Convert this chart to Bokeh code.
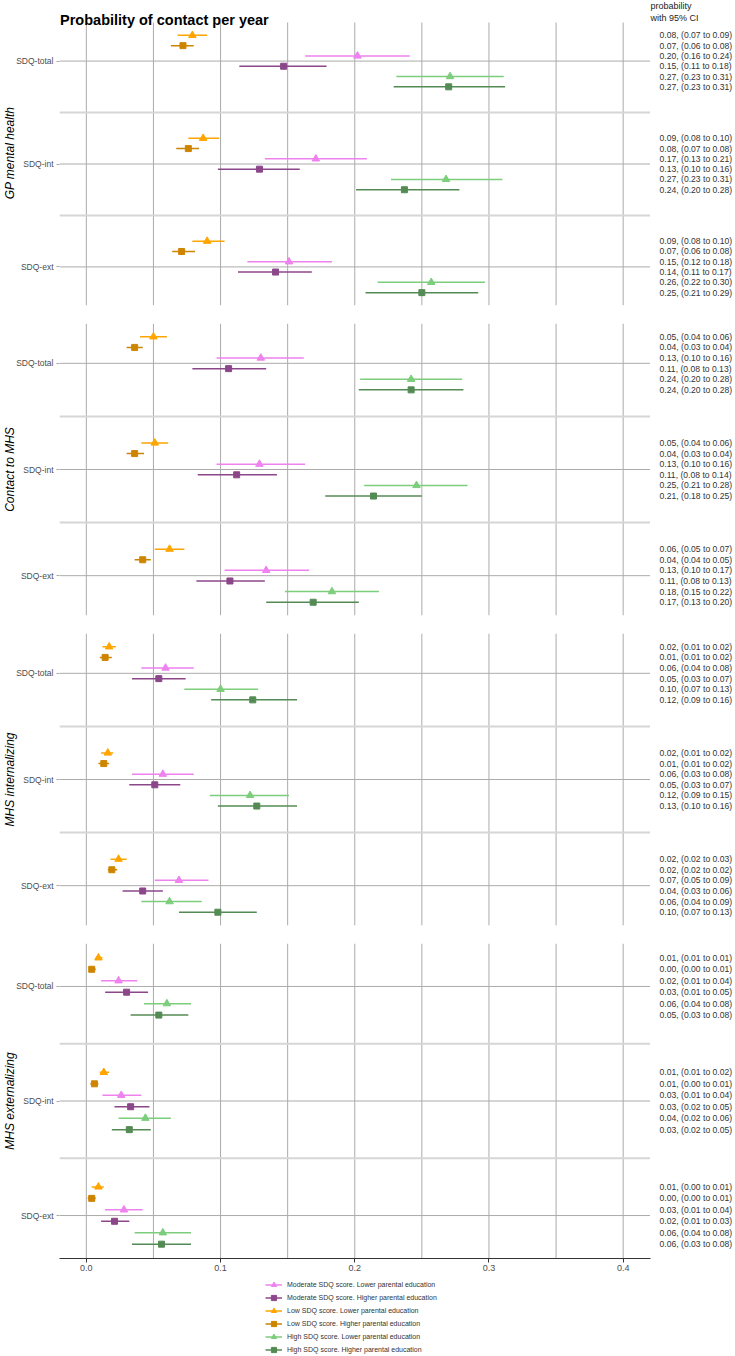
from bokeh.plotting import figure
from bokeh.models import Range1d, FixedTicker, Legend, LegendItem, ColumnDataSource
from bokeh.layouts import column
from bokeh.embed import file_html
from bokeh.resources import INLINE
from bokeh.core.properties import value

FONT = "Liberation Sans"

outcomes = ["GP mental health", "Contact to MHS", "MHS internalizing", "MHS externalizing"]
measures = ["SDQ-total", "SDQ-int", "SDQ-ext"]
groups = [
    "Low SDQ score. Lower parental education",
    "Low SDQ score. Higher parental education",
    "Moderate SDQ score. Lower parental education",
    "Moderate SDQ score. Higher parental education",
    "High SDQ score. Lower parental education",
    "High SDQ score. Higher parental education",
]
group_colors = ["#FFA500", "#CD8500", "#EE82EE", "#8B4789", "#7CCD7C", "#548B54"]
group_markers = ["triangle", "square", "triangle", "square", "triangle", "square"]
legend_order = [2, 3, 0, 1, 4, 5]

# Probability estimates and 95% CI, listed measure by measure (total, int, ext),
# six groups per measure in the order of `groups`.
gp_est = [0.079, 0.072, 0.202, 0.147, 0.271, 0.270,
          0.087, 0.076, 0.171, 0.129, 0.268, 0.237,
          0.090, 0.071, 0.151, 0.141, 0.257, 0.250]
gp_lo = [0.068, 0.063, 0.163, 0.114, 0.231, 0.229,
         0.076, 0.067, 0.133, 0.098, 0.227, 0.201,
         0.079, 0.064, 0.120, 0.113, 0.217, 0.208]
gp_hi = [0.090, 0.080, 0.241, 0.179, 0.311, 0.312,
         0.099, 0.084, 0.209, 0.159, 0.310, 0.278,
         0.103, 0.081, 0.183, 0.168, 0.297, 0.292]

mhs_est = [0.050, 0.036, 0.130, 0.106, 0.242, 0.242,
           0.051, 0.036, 0.129, 0.112, 0.246, 0.214,
           0.062, 0.042, 0.134, 0.107, 0.183, 0.169]
mhs_lo = [0.040, 0.030, 0.097, 0.079, 0.204, 0.203,
          0.041, 0.030, 0.097, 0.083, 0.207, 0.178,
          0.051, 0.036, 0.103, 0.082, 0.148, 0.134]
mhs_hi = [0.060, 0.042, 0.162, 0.134, 0.280, 0.281,
          0.061, 0.043, 0.163, 0.142, 0.284, 0.250,
          0.073, 0.048, 0.166, 0.133, 0.218, 0.203]

int_est = [0.017, 0.014, 0.059, 0.054, 0.100, 0.124,
           0.016, 0.013, 0.057, 0.051, 0.122, 0.127,
           0.024, 0.019, 0.069, 0.042, 0.062, 0.098]
int_lo = [0.012, 0.010, 0.041, 0.034, 0.073, 0.093,
          0.011, 0.009, 0.034, 0.032, 0.092, 0.098,
          0.018, 0.016, 0.051, 0.027, 0.041, 0.069]
int_hi = [0.022, 0.019, 0.080, 0.074, 0.128, 0.157,
          0.020, 0.017, 0.080, 0.070, 0.151, 0.157,
          0.030, 0.023, 0.091, 0.057, 0.086, 0.127]

ext_est = [0.009, 0.004, 0.024, 0.030, 0.060, 0.054,
           0.013, 0.006, 0.026, 0.033, 0.044, 0.032,
           0.009, 0.004, 0.028, 0.021, 0.057, 0.056]
ext_lo = [0.007, 0.002, 0.011, 0.014, 0.043, 0.033,
          0.010, 0.003, 0.012, 0.021, 0.024, 0.019,
          0.004, 0.001, 0.014, 0.011, 0.036, 0.034]
ext_hi = [0.012, 0.007, 0.038, 0.046, 0.078, 0.076,
          0.017, 0.009, 0.041, 0.047, 0.063, 0.048,
          0.013, 0.007, 0.042, 0.032, 0.078, 0.078]

x_ticks = [0.0, 0.1, 0.2, 0.3, 0.4]
x_tick_labels = ["0.0", "0.1", "0.2", "0.3", "0.4"]
x_grid = [0.0, 0.05, 0.1, 0.15, 0.2, 0.25, 0.3, 0.35, 0.4]

estimates = [gp_est, mhs_est, int_est, ext_est]
lowers = [gp_lo, mhs_lo, int_lo, ext_lo]
uppers = [gp_hi, mhs_hi, int_hi, ext_hi]

row_offsets = [-0.25, -0.15, -0.05, 0.05, 0.15, 0.25]
panel_x = (-0.02, 0.42)
canvas_x = (-0.02, 0.4837)
text_x = 0.4271
y_lo, y_hi = 0.625, 3.375


def marker_size(marker):
    return 7.5 if marker == "triangle" else 6


# (figure height, px above panel inside frame, frame height, bottom border)
sizes = [(323, 22, 305, 18), (310, 0, 292, 18), (310, 0, 292, 18), (335, 0, 315, 20)]

figs = []
for k, outcome in enumerate(outcomes):
    height, extra_px, frame_px, bottom = sizes[k]
    per_px = (y_hi - y_lo) / (frame_px - extra_px)
    y_top = y_lo - extra_px * per_px
    last = k == len(outcomes) - 1
    p = figure(width=735, height=height,
               x_range=Range1d(*canvas_x), y_range=Range1d(y_hi, y_top),
               output_backend="svg", toolbar_location=None,
               x_axis_location="below" if last else None,
               min_border_left=59, min_border_right=0, min_border_top=0,
               min_border_bottom=bottom)
    p.grid.visible = False
    p.outline_line_color = None
    p.background_fill_color = "white"
    p.border_fill_color = "white"

    # grid lines restricted to the panel area
    p.segment(x0=x_grid, x1=x_grid, y0=[y_lo] * len(x_grid), y1=[y_hi] * len(x_grid),
              line_color="#ababab", line_width=1)
    p.segment(x0=[panel_x[0]] * 2, x1=[panel_x[1]] * 2, y0=[1.5, 2.5], y1=[1.5, 2.5],
              line_color="#d6d6d6", line_width=2)
    p.segment(x0=[panel_x[0]] * 3, x1=[panel_x[1]] * 3, y0=[1, 2, 3], y1=[1, 2, 3],
              line_color="#ababab", line_width=1)

    est, lo, hi = estimates[k], lowers[k], uppers[k]
    text_y, text_lab = [], []
    for m in range(len(measures)):
        for g in range(len(groups)):
            i = m * len(groups) + g
            text_y.append(m + 1 + row_offsets[g])
            text_lab.append(f"{est[i]:.2f}, ({lo[i]:.2f} to {hi[i]:.2f})")

    for g in range(len(groups)):
        idx = [m * len(groups) + g for m in range(len(measures))]
        src = ColumnDataSource(dict(
            y=[m + 1 + row_offsets[g] for m in range(len(measures))],
            est=[est[i] for i in idx], lo=[lo[i] for i in idx], hi=[hi[i] for i in idx]))
        p.segment(x0="lo", x1="hi", y0="y", y1="y", source=src,
                  line_color=group_colors[g], line_width=1.5)
        p.scatter(x="est", y="y", source=src, marker=group_markers[g],
                  size=marker_size(group_markers[g]),
                  fill_color=group_colors[g], line_color=group_colors[g])

    p.text(x=[text_x] * len(text_y), y=text_y, text=text_lab,
           text_font=value(FONT), text_font_size="8.6px", text_color="#333333",
           text_align="left", text_baseline="middle")

    p.yaxis.ticker = FixedTicker(ticks=[1, 2, 3])
    p.yaxis.major_label_overrides = {1: measures[0], 2: measures[1], 3: measures[2]}
    p.yaxis.axis_line_color = None
    p.yaxis.major_tick_line_color = "#ababab"
    p.yaxis.major_tick_out = 3
    p.yaxis.major_tick_in = 0
    p.yaxis.minor_tick_line_color = None
    p.yaxis.major_label_standoff = 3
    p.yaxis.major_label_text_font = FONT
    p.yaxis.major_label_text_font_size = "8.5px"
    p.yaxis.major_label_text_color = "#4d4d4d"
    p.yaxis.axis_label = outcome
    p.yaxis.axis_label_text_font = FONT
    p.yaxis.axis_label_text_font_size = "12px"
    p.yaxis.axis_label_text_font_style = "italic"
    p.yaxis.axis_label_text_color = "black"
    p.yaxis.axis_label_standoff = -4

    if k == 0:
        p.text(x=[panel_x[0] + 0.0004], y=[y_top + 19.5 * per_px],
               text=["Probability of contact per year"], text_font=value(FONT),
               text_font_size="14.5px", text_font_style="bold", text_color="black",
               text_align="left", text_baseline="alphabetic")
        p.text(x=[0.4204], y=[y_top], text=["probability\n with 95% CI"],
               text_font=value(FONT), text_font_size="9px", text_color="#222222",
               text_align="left", text_baseline="top", text_line_height=1.2)

    if last:
        p.xaxis.ticker = FixedTicker(ticks=x_ticks)
        p.xaxis.major_label_overrides = {t: s for t, s in zip(x_ticks, x_tick_labels)}
        p.xaxis.bounds = panel_x
        p.xaxis.axis_line_color = "#333333"
        p.xaxis.major_tick_line_color = "#333333"
        p.xaxis.major_tick_out = 4
        p.xaxis.major_tick_in = 0
        p.xaxis.minor_tick_line_color = None
        p.xaxis.major_label_standoff = 2
        p.xaxis.major_label_text_font = FONT
        p.xaxis.major_label_text_font_size = "9px"
        p.xaxis.major_label_text_color = "#4d4d4d"

    figs.append(p)

# legend strip below the panels; its key renderers hold no visible points
leg = figure(width=735, height=78, x_range=Range1d(0, 1), y_range=Range1d(0, 1),
             output_backend="svg", toolbar_location=None,
             x_axis_location=None, y_axis_location=None,
             min_border_left=0, min_border_right=0, min_border_top=0, min_border_bottom=0)
leg.grid.visible = False
leg.outline_line_color = None
items = []
for g in legend_order:
    keysrc = ColumnDataSource(dict(x=[float("nan")], y=[float("nan")]))
    r1 = leg.segment(x0="x", x1="x", y0="y", y1="y", source=keysrc,
                     line_color=group_colors[g], line_width=1.5)
    r2 = leg.scatter(x="x", y="y", source=keysrc, marker=group_markers[g],
                     size=marker_size(group_markers[g]),
                     fill_color=group_colors[g], line_color=group_colors[g])
    items.append(LegendItem(label=groups[g], renderers=[r1, r2]))
legend = Legend(items=items, location=(206, 0), orientation="vertical",
                label_text_font=FONT, label_text_font_size="7px",
                label_text_color="#333333", glyph_height=13, glyph_width=17,
                spacing=0, padding=0, margin=0, label_standoff=5,
                label_height=13, border_line_color=None, background_fill_alpha=0)
leg.add_layout(legend)
figs.append(leg)

layout = column(*figs, spacing=0)
open("out.html", "w").write(file_html(layout, INLINE))
